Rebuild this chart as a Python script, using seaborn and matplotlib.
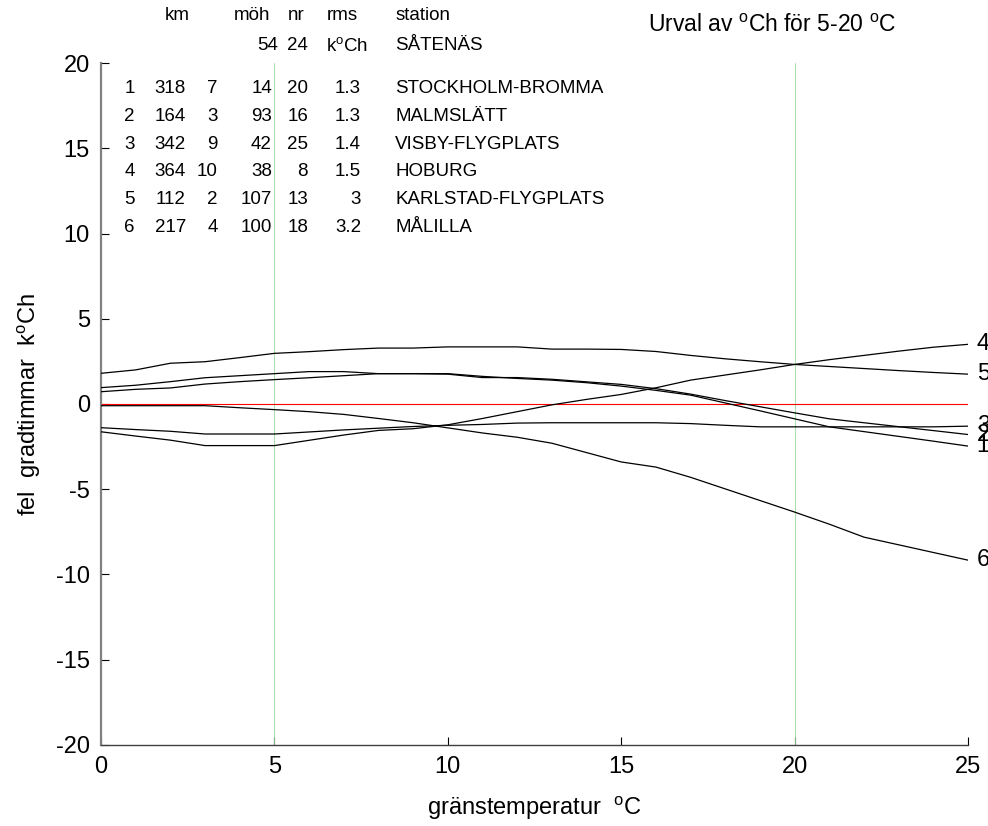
import numpy as np
import pandas as pd
import seaborn as sns
import matplotlib
matplotlib.use("Agg")
import matplotlib.pyplot as plt

# grid of threshold temperatures
temps = list(range(26))

# error curves (k oCh) per comparison station
err_1 = [0.72, 0.86, 0.94, 1.17, 1.31, 1.43, 1.54, 1.66, 1.78, 1.78, 1.78, 1.62, 1.50,
         1.40, 1.25, 1.05, 0.80, 0.52, 0.06, -0.40, -0.87, -1.34, -1.62, -1.90, -2.18, -2.47]
err_2 = [0.96, 1.10, 1.31, 1.54, 1.66, 1.78, 1.90, 1.90, 1.78, 1.78, 1.75, 1.55, 1.55,
         1.45, 1.30, 1.15, 0.90, 0.58, 0.20, -0.16, -0.52, -0.87, -1.10, -1.33, -1.56, -1.79]
err_3 = [-1.39, -1.50, -1.60, -1.76, -1.76, -1.76, -1.64, -1.52, -1.42, -1.32, -1.25, -1.20, -1.12,
         -1.10, -1.10, -1.10, -1.10, -1.15, -1.25, -1.34, -1.34, -1.34, -1.34, -1.34, -1.34, -1.30]
err_4 = [-1.63, -1.88, -2.12, -2.44, -2.44, -2.44, -2.13, -1.82, -1.55, -1.45, -1.22, -0.85, -0.45,
         -0.05, 0.27, 0.56, 0.95, 1.40, 1.70, 2.00, 2.32, 2.60, 2.85, 3.10, 3.33, 3.50]
err_5 = [1.80, 2.00, 2.39, 2.48, 2.72, 2.97, 3.07, 3.19, 3.28, 3.28, 3.35, 3.35, 3.35,
         3.22, 3.22, 3.20, 3.08, 2.85, 2.65, 2.48, 2.32, 2.20, 2.08, 1.96, 1.85, 1.75]
err_6 = [-0.10, -0.10, -0.10, -0.10, -0.22, -0.33, -0.45, -0.61, -0.85, -1.10, -1.40, -1.70, -1.95,
         -2.30, -2.85, -3.40, -3.70, -4.30, -4.98, -5.66, -6.34, -7.05, -7.81, -8.26, -8.71, -9.16]
errors = [err_1, err_2, err_3, err_4, err_5, err_6]

# station table
nums = [1, 2, 3, 4, 5, 6]
km = [318, 164, 342, 364, 112, 217]
col3 = [7, 3, 9, 10, 2, 4]
moh = [14, 93, 42, 38, 107, 100]
nr = [20, 16, 25, 8, 13, 18]
rms = ["1.3", "1.3", "1.4", "1.5", "3", "3.2"]
stations = ["STOCKHOLM-BROMMA", "MALMSLÄTT", "VISBY-FLYGPLATS", "HOBURG",
            "KARLSTAD-FLYGPLATS", "MÅLILLA"]
ref_station = "SÅTENÄS"
ref_moh = 54
ref_nr = 24

sns.set_theme(style="white")
plt.rcParams["font.family"] = ["Liberation Sans", "DejaVu Sans"]
plt.rcParams["mathtext.fontset"] = "custom"
plt.rcParams["mathtext.rm"] = "Liberation Sans"
plt.rcParams["mathtext.it"] = "Liberation Sans:italic"
plt.rcParams["axes.unicode_minus"] = False
plt.rcParams["text.color"] = "black"
plt.rcParams["axes.labelcolor"] = "black"
plt.rcParams["xtick.color"] = "black"
plt.rcParams["ytick.color"] = "black"

df = pd.DataFrame({
    "temp": temps * len(errors),
    "err": np.concatenate(errors),
    "nr": np.repeat(nums, len(temps)),
})

fig = plt.figure(figsize=(9.88, 8.26), dpi=100)
ax = fig.add_axes([0.1022, 0.0981, 0.8776, 0.8256])

ax.axvline(5, color="#9ad89a", lw=0.6, zorder=1)
ax.axvline(20, color="#9ad89a", lw=0.6, zorder=1)
ax.plot([0, 25], [0, 0], color="red", lw=0.8, zorder=2)

sns.lineplot(data=df, x="temp", y="err", units="nr", estimator=None,
             color="black", lw=0.9, ax=ax, zorder=3)

for n, e in zip(nums, errors):
    ax.text(25.25, e[-1], str(n), fontsize=17, ha="left", va="center", clip_on=False)

ax.set_xlim(0, 25)
ax.set_ylim(-20, 20)
ax.set_xticks(range(0, 26, 5))
ax.set_yticks(range(-20, 21, 5))
ax.tick_params(direction="in", length=6, width=0.8, color="black",
               labelsize=17, pad=8, left=True, bottom=True)
for s in ["top", "right"]:
    ax.spines[s].set_visible(False)
ax.spines["left"].set_color("#808080")
ax.spines["left"].set_linewidth(1.6)
ax.spines["bottom"].set_color("#404040")
ax.spines["bottom"].set_linewidth(1.0)

ax.set_xlabel("gränstemperatur  $^{\\rm o}$C", fontsize=17, labelpad=12)
ax.set_ylabel("fel  gradtimmar  k$^{\\rm o}$Ch", fontsize=17, labelpad=9)

# table text
fs = 13.5
row_y = [18.5 - 1.63 * i for i in range(6)]
for i in range(6):
    y = row_y[i]
    ax.text(0.98, y, str(nums[i]), fontsize=fs, ha="right", va="center")
    ax.text(2.45, y, str(km[i]), fontsize=fs, ha="right", va="center")
    ax.text(3.37, y, str(col3[i]), fontsize=fs, ha="right", va="center")
    ax.text(4.93, y, str(moh[i]), fontsize=fs, ha="right", va="center")
    ax.text(5.97, y, str(nr[i]), fontsize=fs, ha="right", va="center")
    ax.text(7.5, y, rms[i], fontsize=fs, ha="right", va="center")
    ax.text(8.48, y, stations[i], fontsize=fs, ha="left", va="center")

head_y = 22.8
ax.text(2.19, head_y, "km", fontsize=fs, ha="center", va="center", clip_on=False)
ax.text(4.35, head_y, "möh", fontsize=fs, ha="center", va="center", clip_on=False)
ax.text(5.62, head_y, "nr", fontsize=fs, ha="center", va="center", clip_on=False)
ax.text(6.95, head_y, "rms", fontsize=fs, ha="center", va="center", clip_on=False)
ax.text(8.48, head_y, "station", fontsize=fs, ha="left", va="center", clip_on=False)

ref_y = 21.0
ax.text(5.1, ref_y, str(ref_moh), fontsize=fs, ha="right", va="center", clip_on=False)
ax.text(5.97, ref_y, str(ref_nr), fontsize=fs, ha="right", va="center", clip_on=False)
ax.text(7.09, ref_y, "k$^{\\rm o}$Ch", fontsize=fs, ha="center", va="center", clip_on=False)
ax.text(8.48, ref_y, ref_station, fontsize=fs, ha="left", va="center", clip_on=False)

ax.text(19.35, 22.2, "Urval av $^{\\rm o}$Ch för 5-20 $^{\\rm o}$C", fontsize=16.5,
        ha="center", va="center", clip_on=False)

fig.savefig("out.png", dpi=100)
